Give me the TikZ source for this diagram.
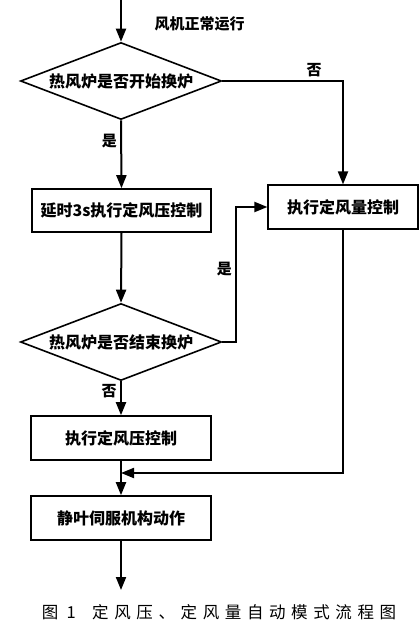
\documentclass[tikz,border=0pt]{standalone}
\usepackage{fontspec}
\usepackage{tikz}
\usetikzlibrary{shapes.geometric,arrows.meta,positioning}
\newfontfamily\cjk{Noto Sans CJK SC}
\newfontfamily\capcjk[LetterSpace=34]{Noto Sans CJK SC}

\begin{document}
\begin{tikzpicture}[x=1pt, y=-1pt,
  every node/.style = {font=\cjk\bfseries\fontsize{16}{19}\selectfont},
  flowbox/.style = {draw, line width=1.6pt, rectangle, minimum width=180pt, minimum height=44pt, inner sep=0pt},
  test/.style = {draw, line width=1.6pt, diamond, aspect=2.61, minimum width=201pt, minimum height=77pt, inner sep=0pt},
  flow/.style = {line width=2pt, -{Triangle[width=10pt,length=13pt]}},
  line/.style = {line width=2pt},
  tag/.style = {font=\cjk\bfseries\fontsize{15}{18}\selectfont}]
\useasboundingbox (0,0) rectangle (419,631);
\coordinate (top) at (121,0);
\node[tag, anchor=west] (run) at (151,24) {风机正常运行};
\node[test] (start) at (121,81) {热风炉是否开始换炉};
\node[flowbox, minimum width=179pt, minimum height=43pt] (delay) at (121.5,210.5) {延时3s执行定风压控制};
\node[flowbox, line width=1.2pt, minimum width=150pt] (flowctl) at (343,207) {执行定风量控制};
\node[test] (finish) at (121,342) {热风炉是否结束换炉};
\node[flowbox] (press) at (121,438) {执行定风压控制};
\node[flowbox] (servo) at (121,518) {静叶伺服机构动作};
\coordinate (join) at (121,473);
\coordinate (bottom) at (121,590);
\node[font=\capcjk\fontsize{16.5}{19}\selectfont] (cap) at (219,612) {图\enspace 1\quad 定风压、定风量自动模式流程图};

\draw[flow] (top) -- (start.north);
\draw[flow] (start.east) -| (flowctl.north) node[tag, pos=0.38, above] {否};
\draw[flow] (start.south) -- (delay.north) node[tag, pos=0.3, left] {是};
\draw[flow] (delay.south) -- (finish.north);
\draw[flow] (finish.east) -- ++(14,0) |- (flowctl.west) node[tag, pos=0.27, left] {是};
\draw[flow] (finish.south) -- (press.north) node[tag, pos=0.3, left] {否};
\draw[line] (press.south) -- (join);
\draw[flow] (join) -- (servo.north);
\draw[flow] (flowctl.south) |- (join);
\draw[flow] (servo.south) -- (bottom);
\end{tikzpicture}
\end{document}
